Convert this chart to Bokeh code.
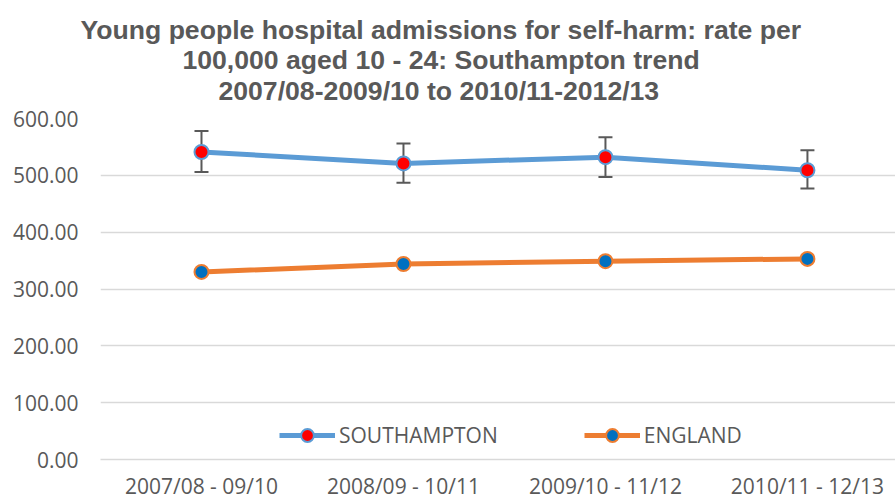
from bokeh.plotting import figure
from bokeh.models import (ColumnDataSource, Range1d, FixedTicker, NumeralTickFormatter,
                          Whisker, TeeHead, Legend, LegendItem, Title)
from bokeh.embed import file_html
from bokeh.resources import INLINE

categories = ["2007/08 - 09/10", "2008/09 - 10/11", "2009/10 - 11/12", "2010/11 - 12/13"]
southampton = [541, 521, 532, 509]
southampton_upper = [578, 556, 567, 544]
southampton_lower = [506, 487, 497, 477]
england = [330, 344, 349, 353]
y_ticks = [0, 100, 200, 300, 400, 500, 600]
title_lines = ["Young people hospital admissions for self-harm: rate per",
               "100,000 aged 10 - 24: Southampton trend",
               "2007/08-2009/10 to 2010/11-2012/13"]

xs = list(range(len(categories)))
src = ColumnDataSource(dict(x=xs, sot=southampton, up=southampton_upper,
                            lo=southampton_lower, eng=england))

TXT = "#595959"
FONT = "Open Sans"
FS = "21px"

p = figure(width=895, height=502, output_backend="svg", toolbar_location=None,
           x_range=Range1d(-0.5, 3.436), y_range=Range1d(0, 600),
           min_border_left=100, min_border_right=0, min_border_top=118,
           min_border_bottom=41)
p.outline_line_color = None
p.background_fill_color = "white"
p.border_fill_color = "white"

p.xgrid.grid_line_color = None
p.ygrid.grid_line_color = "#D9D9D9"
p.ygrid.grid_line_width = 1.3

p.yaxis.ticker = FixedTicker(ticks=y_ticks)
p.yaxis.formatter = NumeralTickFormatter(format="0.00")
p.yaxis.axis_line_color = None
p.yaxis.major_tick_line_color = None
p.yaxis.minor_tick_line_color = None
p.yaxis.major_tick_out = 0
p.yaxis.major_tick_in = 0
p.yaxis.major_label_standoff = 22
p.yaxis.major_label_text_font = FONT
p.yaxis.major_label_text_font_size = FS
p.yaxis.major_label_text_color = TXT

p.xaxis.ticker = FixedTicker(ticks=xs)
p.xaxis.major_label_overrides = {i: c for i, c in zip(xs, categories)}
p.xaxis.axis_line_color = "#D9D9D9"
p.xaxis.axis_line_width = 1.3
p.xaxis.major_tick_line_color = None
p.xaxis.minor_tick_line_color = None
p.xaxis.major_tick_out = 0
p.xaxis.major_tick_in = 0
p.xaxis.major_label_standoff = 12
p.xaxis.major_label_text_font = FONT
p.xaxis.major_label_text_font_size = FS
p.xaxis.major_label_text_color = TXT

wh = Whisker(source=src, base="x", upper="up", lower="lo",
             line_color="#595959", line_width=2,
             upper_head=TeeHead(size=14, line_color="#595959", line_width=2),
             lower_head=TeeHead(size=14, line_color="#595959", line_width=2))
p.add_layout(wh)

l1 = p.line("x", "sot", source=src, line_color="#5B9BD5", line_width=5)
s1 = p.scatter("x", "sot", source=src, size=14, fill_color="#FF0000",
               line_color="#5B9BD5", line_width=2)
l2 = p.line("x", "eng", source=src, line_color="#ED7D31", line_width=5)
s2 = p.scatter("x", "eng", source=src, size=14, fill_color="#0070C0",
               line_color="#ED7D31", line_width=2)

legend = Legend(items=[LegendItem(label="SOUTHAMPTON", renderers=[l1, s1]),
                       LegendItem(label="ENGLAND", renderers=[l2, s2])],
                orientation="horizontal", location=(179, 8),
                glyph_width=56, glyph_height=32, spacing=86, padding=8,
                label_text_font=FONT, label_text_font_size=FS,
                label_text_color=TXT, label_standoff=4,
                border_line_color=None, background_fill_alpha=0)
p.add_layout(legend, "center")

# title lines, added from the one nearest the plot outward
offsets = [-20, 82, 118]
standoffs = [22, -26, 25]
for txt, off, so in reversed(list(zip(title_lines, offsets, standoffs))):
    p.add_layout(Title(text=txt, align="left", offset=off, standoff=so,
                       text_font="Liberation Sans", text_font_style="bold",
                       text_font_size="26.6px", text_color=TXT), "above")

open("out.html", "w").write(file_html(p, INLINE))
